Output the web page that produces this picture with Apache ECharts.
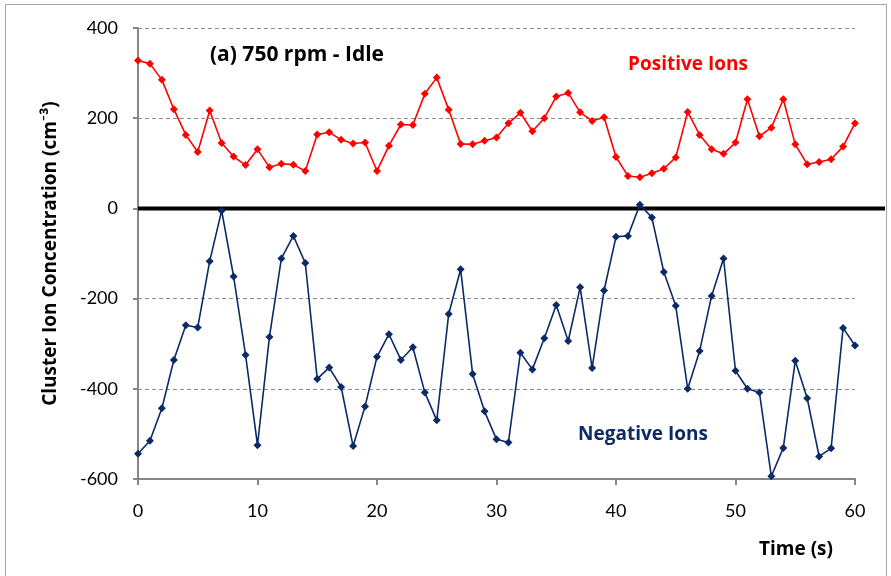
<!DOCTYPE html>
<html>
<head>
<meta charset="utf-8">
<script src="https://cdn.jsdelivr.net/npm/echarts@6/dist/echarts.min.js"></script>
<style>
  html, body { margin: 0; padding: 0; background: #fff; }
  #frame { position: absolute; left: 5px; top: 4px; width: 882px; height: 580px; border: 1px solid #a6a6a6; box-sizing: border-box; }
  #chart { position: absolute; left: 0; top: 0; width: 891px; height: 576px; }
</style>
</head>
<body>
<div id="frame"></div>
<div id="chart"></div>
<script>
// Time in seconds, one sample per second
const timeSec = [0,1,2,3,4,5,6,7,8,9,10,11,12,13,14,15,16,17,18,19,20,21,22,23,24,25,26,27,28,29,30,
  31,32,33,34,35,36,37,38,39,40,41,42,43,44,45,46,47,48,49,50,51,52,53,54,55,56,57,58,59,60];

// Positive cluster ion concentration (cm^-3)
const positiveIons = [328,321,285,220,163,125,217,145,115,96,131,91,99,97,83,164,169,152,144,146,83,
  139,186,185,254,290,219,143,142,150,157,189,212,171,200,248,256,213,194,202,114,
  72,69,78,88,113,214,163,131,121,146,242,160,179,242,142,98,103,109,137,189];

// Negative cluster ion concentration (cm^-3)
const negativeIons = [-544,-515,-443,-336,-259,-264,-117,-5,-151,-325,-525,-285,-111,-61,-121,-378,-353,-396,-527,-439,-329,
  -279,-336,-308,-408,-470,-234,-135,-367,-450,-512,-519,-320,-357,-288,-214,-294,-175,-354,-182,-63,
  -61,8,-20,-141,-216,-400,-316,-194,-111,-360,-400,-408,-594,-531,-338,-421,-550,-532,-265,-304];

const xTicks = { min: 0, max: 60, step: 10 };
const yTicks = { min: -600, max: 400, step: 200 };

const FONT = 'Lato, "Open Sans", sans-serif';
const BOLD_FONT = '"Open Sans", Lato, sans-serif';
const RED = '#ff0000';
const NAVY = '#0c2a66';

const pair = (vals) => vals.map((v, i) => [timeSec[i], v]);

const chart = echarts.init(document.getElementById('chart'), null, { renderer: 'canvas' });

chart.setOption({
  animation: false,
  backgroundColor: 'transparent',
  grid: { left: 138, right: 36, top: 28, bottom: 97, containLabel: false },
  xAxis: {
    type: 'value',
    min: xTicks.min, max: xTicks.max, interval: xTicks.step,
    axisLine: { show: true, onZero: false, lineStyle: { color: '#868686', width: 2 } },
    axisTick: { show: true, inside: false, length: 6, lineStyle: { color: '#868686', width: 2 } },
    axisLabel: { color: '#000', fontFamily: FONT, fontSize: 18, margin: 23 },
    splitLine: { show: false },
    name: 'Time (s)',
    nameLocation: 'end',
    nameGap: 0,
    nameTextStyle: { fontFamily: BOLD_FONT, fontWeight: 'bold', fontSize: 19, color: '#000',
      align: 'right', verticalAlign: 'top', padding: [61, 22, 0, 0] }
  },
  yAxis: {
    type: 'value',
    min: yTicks.min, max: yTicks.max, interval: yTicks.step,
    axisLine: { show: true, onZero: false, lineStyle: { color: '#868686', width: 2 } },
    axisTick: { show: true, inside: false, length: 5, lineStyle: { color: '#868686', width: 2 } },
    axisLabel: { color: '#000', fontFamily: FONT, fontSize: 18, margin: 20 },
    splitLine: { show: true, lineStyle: { color: '#8c8c8c', type: [4, 3], width: 1.2 } },
    name: 'Cluster Ion Concentration (cm\u207B\u00B3)',
    nameLocation: 'middle',
    nameGap: 78,
    nameRotate: 90,
    nameTextStyle: { fontFamily: BOLD_FONT, fontWeight: 'bold', fontSize: 19, color: '#000' }
  },
  series: [
    {
      name: 'Positive Ions',
      type: 'line',
      data: pair(positiveIons),
      symbol: 'diamond',
      symbolSize: 8,
      itemStyle: { color: RED },
      lineStyle: { color: RED, width: 1.6 },
      z: 3
    },
    {
      name: 'Negative Ions',
      type: 'line',
      data: pair(negativeIons),
      symbol: 'diamond',
      symbolSize: 8,
      itemStyle: { color: NAVY },
      lineStyle: { color: NAVY, width: 1.6 },
      z: 3
    }
  ]
});

// Heavy zero reference line, placed from the y scale and carried to the right margin
const zeroY = chart.convertToPixel({ yAxisIndex: 0 }, 0);
const x0 = chart.convertToPixel({ xAxisIndex: 0 }, 0);

chart.setOption({
  graphic: [
    {
      type: 'line', z: 2,
      shape: { x1: x0, y1: zeroY, x2: 885, y2: zeroY },
      style: { stroke: '#000', lineWidth: 4 }
    },
    {
      type: 'text', left: 210, top: 45, z: 10,
      style: { text: '(a) 750 rpm - Idle', fill: '#000', font: 'bold 21px ' + BOLD_FONT }
    },
    {
      type: 'text', left: 628, top: 55, z: 10,
      style: { text: 'Positive Ions', fill: RED, font: 'bold 19px ' + BOLD_FONT }
    },
    {
      type: 'text', left: 578, top: 425, z: 10,
      style: { text: 'Negative Ions', fill: NAVY, font: 'bold 19px ' + BOLD_FONT }
    }
  ]
});
</script>
</body>
</html>
